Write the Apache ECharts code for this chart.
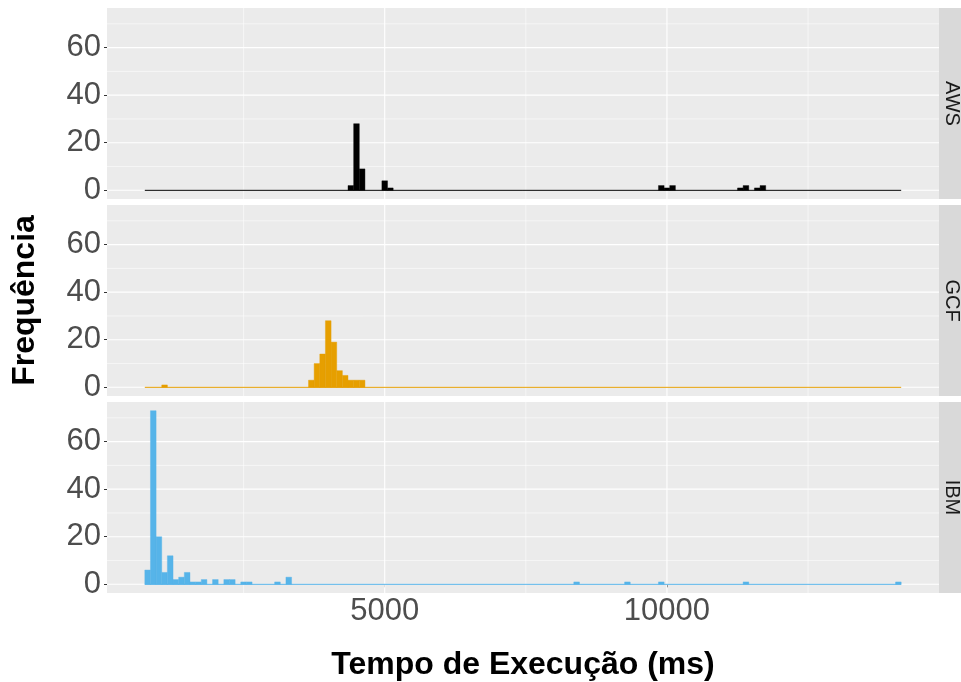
<!DOCTYPE html>
<html>
<head>
<meta charset="utf-8">
<script src="https://cdn.jsdelivr.net/npm/echarts@6/dist/echarts.min.js"></script>
<style>
  html, body { margin: 0; padding: 0; background: #ffffff; }
  #chart { width: 961px; height: 682px; }
</style>
</head>
<body>
<div id="chart"></div>
<script>
// Execution-time histograms (bin width 100 ms), one facet per provider
const providers = ['AWS', 'GCF', 'IBM'];
const providerColors = ['#000000', '#E69F00', '#56B4E9'];

// bin centres (ms) and counts of the non-empty bins
const awsBins   = [4400, 4500, 4600, 5000, 5100, 9900, 10000, 10100, 11300, 11400, 11600, 11700];
const awsCounts = [2, 28, 9, 4, 1, 2, 1, 2, 1, 2, 1, 2];

const gcfBins   = [1100, 3700, 3800, 3900, 4000, 4100, 4200, 4300, 4400, 4500, 4600];
const gcfCounts = [1, 3, 10, 14, 28, 19, 7, 5, 3, 3, 3];

const ibmBins   = [800, 900, 1000, 1100, 1200, 1300, 1400, 1500, 1600, 1700, 1800, 2000, 2200, 2300, 2500, 2600, 3100, 3300, 8400, 9300, 9900, 11400, 14100];
const ibmCounts = [6, 73, 20, 5, 12, 2, 3, 5, 1, 1, 2, 2, 2, 2, 1, 1, 1, 3, 1, 1, 1, 1, 1];

const binWidth = 100;
const binStart = 750;   // left edge of the first bin
const binEnd = 14150;   // right edge of the last bin

// axis breaks
const yTicks = [0, 20, 40, 60];
const yMinorTicks = [10, 30, 50, 70];
const xTicks = [5000, 10000];
const xMinorTicks = [2500, 7500, 12500];

const xLimits = [80, 14820];
const yLimits = [-3.65, 76.65];

const seriesBins = [awsBins, gcfBins, ibmBins];
const seriesCounts = [awsCounts, gcfCounts, ibmCounts];

const FONT = '"Liberation Sans", Arial, Helvetica, sans-serif';
const LEFT = 107, WIDTH = 832, HEIGHT = 191;
const TOPS = [8, 205, 402];

const chart = echarts.init(document.getElementById('chart'), null, { renderer: 'canvas' });

const grids = [], xAxes = [], yAxes = [], series = [], graphics = [];

// grid-line records: [x, y, direction (0 = horizontal, 1 = vertical), major flag]
const gridLineData = [];
yTicks.forEach(v => gridLineData.push([7000, v, 0, 1]));
yMinorTicks.forEach(v => gridLineData.push([7000, v, 0, 0]));
xTicks.forEach(v => gridLineData.push([v, 30, 1, 1]));
xMinorTicks.forEach(v => gridLineData.push([v, 30, 1, 0]));

const plainNumber = v => String(v);

providers.forEach((name, i) => {
  const isBottom = i === providers.length - 1;
  grids.push({
    left: LEFT, top: TOPS[i], width: WIDTH, height: HEIGHT,
    show: true, backgroundColor: '#EBEBEB', borderWidth: 0, containLabel: false
  });
  xAxes.push({
    type: 'value', gridIndex: i, min: xLimits[0], max: xLimits[1],
    axisLine: { show: false },
    splitLine: { show: false },
    axisTick: { show: isBottom, customValues: xTicks, length: 3, lineStyle: { color: '#333333', width: 1 } },
    axisLabel: {
      show: isBottom, customValues: xTicks, margin: 3, formatter: plainNumber,
      color: '#4D4D4D', fontSize: 31, fontFamily: FONT
    },
    name: isBottom ? 'Tempo de Execução (ms)' : '',
    nameLocation: 'middle', nameGap: 56,
    nameTextStyle: { color: '#000000', fontSize: 32, fontWeight: 'bold', fontFamily: FONT }
  });
  yAxes.push({
    type: 'value', gridIndex: i, min: yLimits[0], max: yLimits[1],
    axisLine: { show: false },
    splitLine: { show: false },
    axisTick: { show: true, customValues: yTicks, length: 3, lineStyle: { color: '#333333', width: 1 } },
    axisLabel: {
      show: true, customValues: yTicks, margin: 6, formatter: plainNumber,
      padding: [5, 0, 0, 0],
      color: '#4D4D4D', fontSize: 31, fontFamily: FONT
    },
    name: i === 1 ? 'Frequência' : '',
    nameLocation: 'middle', nameGap: 66, nameRotate: 90,
    nameTextStyle: { color: '#000000', fontSize: 32, fontWeight: 'bold', fontFamily: FONT }
  });

  // panel grid lines
  series.push({
    type: 'custom', xAxisIndex: i, yAxisIndex: i, z: 1, silent: true,
    data: gridLineData,
    renderItem: function (params, api) {
      const cs = params.coordSys;
      const pt = api.coord([api.value(0), api.value(1)]);
      const w = api.value(3) ? 1.1 : 0.55;
      const shape = api.value(2) === 0
        ? { x1: cs.x, y1: pt[1], x2: cs.x + cs.width, y2: pt[1] }
        : { x1: pt[0], y1: cs.y, x2: pt[0], y2: cs.y + cs.height };
      return { type: 'line', shape: shape, style: { stroke: '#FFFFFF', lineWidth: w } };
    }
  });

  // baseline across the binned range
  series.push({
    type: 'line', xAxisIndex: i, yAxisIndex: i, z: 2, silent: true,
    showSymbol: false, symbol: 'none',
    data: [[binStart, 0], [binEnd, 0]],
    lineStyle: { color: providerColors[i], width: 1 }
  });

  // histogram bars
  series.push({
    type: 'custom', xAxisIndex: i, yAxisIndex: i, z: 3, silent: true,
    data: seriesBins[i].map((b, k) => [b, seriesCounts[i][k]]),
    renderItem: function (params, api) {
      const c = api.value(0), n = api.value(1);
      const p0 = api.coord([c - binWidth / 2, 0]);
      const p1 = api.coord([c + binWidth / 2, n]);
      return {
        type: 'rect',
        shape: { x: p0[0], y: p1[1], width: p1[0] - p0[0], height: p0[1] - p1[1] },
        style: { fill: providerColors[i], stroke: providerColors[i], lineWidth: 0.4 }
      };
    }
  });

  // facet strip on the right
  graphics.push({
    type: 'rect', silent: true,
    shape: { x: LEFT + WIDTH, y: TOPS[i], width: 961 - (LEFT + WIDTH), height: HEIGHT },
    style: { fill: '#D9D9D9' }
  });
  graphics.push({
    type: 'text', silent: true,
    x: 952, y: TOPS[i] + HEIGHT / 2, rotation: -Math.PI / 2,
    style: {
      text: name, fill: '#1A1A1A', fontSize: 20, fontFamily: FONT,
      textAlign: 'center', textVerticalAlign: 'middle'
    }
  });
});

chart.setOption({
  animation: false,
  backgroundColor: '#FFFFFF',
  grid: grids,
  xAxis: xAxes,
  yAxis: yAxes,
  series: series,
  graphic: graphics
});
</script>
</body>
</html>
